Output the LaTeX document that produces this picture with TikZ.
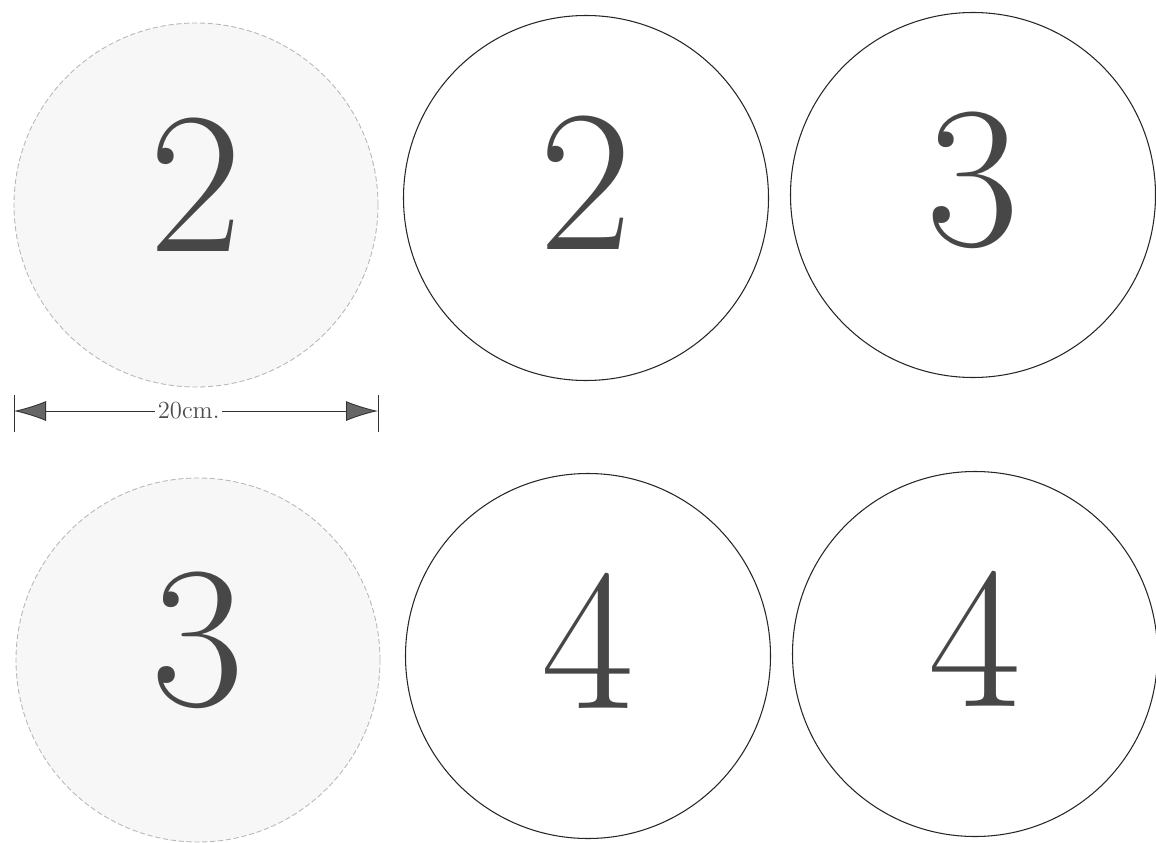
\documentclass[tikz,border=0pt]{standalone}
\usepackage{fontspec}
\usetikzlibrary{arrows.meta}

\tikzset{
    disc/.style={circle, inner sep=0pt, minimum size=7.28cm,
        draw=black!28, dash pattern=on 3pt off 1.5pt, line width=0.5pt, fill=black!3},
    ring/.style={circle, inner sep=0pt, minimum size=7.3cm,
        draw=black!85, line width=0.6pt},
    numeral/.style={text=black!72, inner sep=0pt,
        font=\fontsize{115}{115}\selectfont},
    gauge/.style={draw=black!80, line width=0.5pt},
}

\begin{document}
\begin{tikzpicture}
        \useasboundingbox (0, 0) rectangle (23.12, -16.86);

        % left column, shaded discs
        \node [disc] (d1) at (3.92, -4.10) {};
        \node [disc] (d4) at (3.96, -13.20) {};

        % open rings
        \node [ring] (d2) at (11.72, -3.96) {};
        \node [ring] (d3) at (19.46, -3.90) {};
        \node [ring] (d5) at (11.76, -13.12) {};
        \node [ring] (d6) at (19.50, -13.08) {};

        \node [numeral] (n1) at ([yshift=0.40cm]d1.center) {2};
        \node [numeral] (n2) at ([yshift=0.30cm]d2.center) {2};
        \node [numeral] (n3) at ([yshift=0.30cm]d3.center) {3};
        \node [numeral] (n4) at ([yshift=0.40cm]d4.center) {3};
        \node [numeral] (n5) at ([yshift=0.30cm]d5.center) {4};
        \node [numeral] (n6) at ([yshift=0.30cm]d6.center) {4};

        % width of a disc
        \coordinate (gl) at (0.28, -8.22);
        \coordinate (gr) at (7.56, -8.22);
        \draw [gauge] ([yshift=0.32cm]gl) -- ([yshift=-0.42cm]gl);
        \draw [gauge] ([yshift=0.32cm]gr) -- ([yshift=-0.42cm]gr);
        \draw [gauge, {Latex[length=0.64cm, width=0.4cm, fill=black!60]}-{Latex[length=0.64cm, width=0.4cm, fill=black!60]}]
            (gl) -- node [pos=0.48, fill=white, inner sep=1.5pt, text=black!70,
                font=\fontsize{14}{14}\selectfont] (w) {20cm.} (gr);
\end{tikzpicture}
\end{document}
